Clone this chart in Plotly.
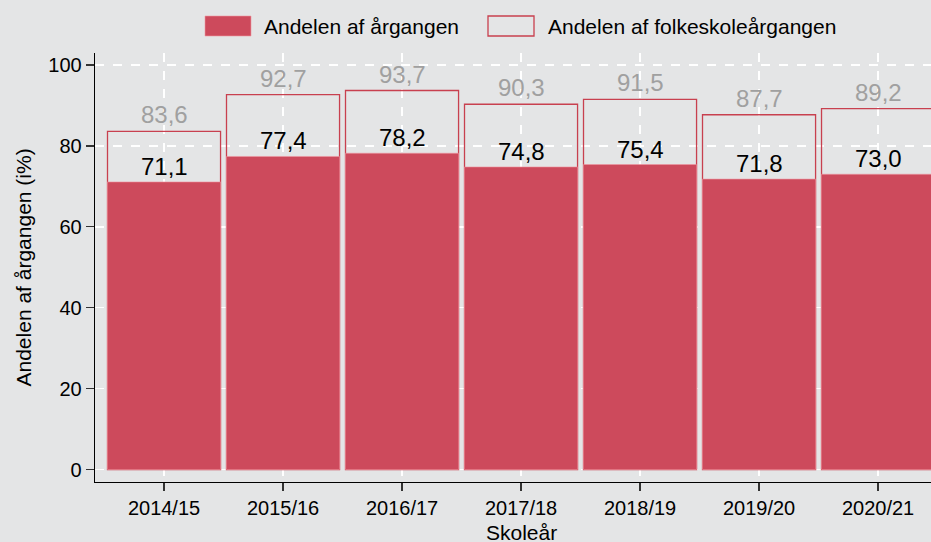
import plotly.graph_objects as go

categories = ["2014/15", "2015/16", "2016/17", "2017/18", "2018/19", "2019/20", "2020/21"]
andel_aargang = [71.1, 77.4, 78.2, 74.8, 75.4, 71.8, 73.0]
andel_folkeskole = [83.6, 92.7, 93.7, 90.3, 91.5, 87.7, 89.2]
y_ticks = [0, 20, 40, 60, 80, 100]

series_names = ["Andelen af årgangen", "Andelen af folkeskoleårgangen"]
y_title = "Andelen af årgangen (i%)"
x_title = "Skoleår"

W, H = 931, 542
L, T, R, B = 95, 53, 931, 482  # plot area in pixels
BG = "#e4e5e6"
RED = "#cd4a5c"
RED_LINE = "#c8404f"
FONT = "Liberation Sans, Arial, sans-serif"


def px(x):
    return (x - L) / (R - L)


def py(y):
    return (B - y) / (B - T)


def fmt(v):
    return f"{v:.1f}".replace(".", ",")


fig = go.Figure()
fig.add_trace(go.Bar(
    x=categories, y=andel_folkeskole, name=series_names[1], width=0.95,
    marker=dict(color="rgba(0,0,0,0)", line=dict(color=RED_LINE, width=1.3)),
    showlegend=False, hoverinfo="skip",
))
fig.add_trace(go.Bar(
    x=categories, y=andel_aargang, name=series_names[0], width=0.95,
    marker=dict(color=RED, line=dict(color="rgba(240,150,160,0.6)", width=1)),
    showlegend=False, hoverinfo="skip",
))

annotations = []
for c, v in zip(categories, andel_aargang):
    annotations.append(dict(x=c, y=v, xref="x", yref="y", text=fmt(v), showarrow=False,
                            yanchor="bottom", yshift=0,
                            font=dict(family=FONT, size=24, color="#000000")))
for c, v in zip(categories, andel_folkeskole):
    annotations.append(dict(x=c, y=v, xref="x", yref="y", text=fmt(v), showarrow=False,
                            yanchor="bottom", yshift=1,
                            font=dict(family=FONT, size=24, color="#a0a0a0")))

# axis titles
annotations.append(dict(x=px(521), y=py(532), xref="paper", yref="paper", text=x_title,
                        showarrow=False, xanchor="center", yanchor="middle",
                        font=dict(family=FONT, size=21, color="#000000")))
annotations.append(dict(x=px(23), y=0.5, xref="paper", yref="paper", text=y_title,
                        showarrow=False, xanchor="center", yanchor="middle", textangle=-90,
                        font=dict(family=FONT, size=21, color="#000000")))

# custom legend
shapes = [
    dict(type="rect", xref="paper", yref="paper", x0=px(205), x1=px(251), y0=py(36), y1=py(16),
         fillcolor=RED, line=dict(color="rgba(240,150,160,0.6)", width=1)),
    dict(type="rect", xref="paper", yref="paper", x0=px(488), x1=px(534), y0=py(36), y1=py(16),
         fillcolor="rgba(0,0,0,0)", line=dict(color=RED_LINE, width=1.3)),
]
annotations.append(dict(x=px(262), y=py(26), xref="paper", yref="paper", text=series_names[0],
                        showarrow=False, xanchor="left", yanchor="middle",
                        font=dict(family=FONT, size=21, color="#000000")))
annotations.append(dict(x=px(546), y=py(26), xref="paper", yref="paper", text=series_names[1],
                        showarrow=False, xanchor="left", yanchor="middle",
                        font=dict(family=FONT, size=21, color="#000000")))

fig.update_layout(
    width=W, height=H, autosize=False,
    margin=dict(l=L, t=T, r=W - R, b=H - B, pad=0),
    paper_bgcolor=BG, plot_bgcolor=BG,
    barmode="overlay",
    showlegend=False,
    annotations=annotations,
    shapes=shapes,
    font=dict(family=FONT, size=20, color="#000000"),
    xaxis=dict(
        type="category", range=[-0.58, 6.445],
        showline=True, linecolor="#000000", linewidth=1.3,
        ticks="outside", ticklen=8, tickwidth=1.3, tickcolor="#333333",
        showgrid=True, gridcolor="#ffffff", gridwidth=1.5, griddash="dash",
        tickfont=dict(family=FONT, size=20), zeroline=False,
    ),
    yaxis=dict(
        range=[-3.09, 102.97], tickvals=y_ticks,
        showline=True, linecolor="#000000", linewidth=1.3,
        ticks="outside", ticklen=8, tickwidth=1.3, tickcolor="#333333",
        showgrid=True, gridcolor="#ffffff", gridwidth=1.5, griddash="dash",
        tickfont=dict(family=FONT, size=20), zeroline=False,
    ),
)

fig.write_html(
    "out.html",
    config={"displayModeBar": False, "staticPlot": True},
    post_script="document.body.style.margin='0';document.body.style.padding='0';"
                "document.body.style.overflow='hidden';"
                "document.body.style.background='" + BG + "';",
)
